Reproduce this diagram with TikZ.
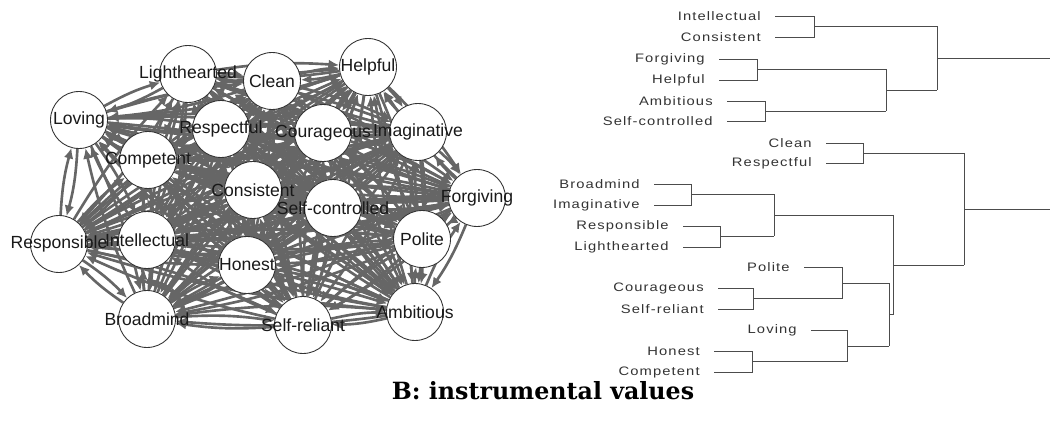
\documentclass[tikz,border=0pt]{standalone}
\usepackage{fontspec}
\setmainfont{Liberation Sans}
\newfontfamily\dendfont[FakeStretch=1.2, LetterSpace=9]{Liberation Sans}
\newfontfamily\capfont{DejaVu Serif}
\usetikzlibrary{arrows.meta,backgrounds}

\tikzset{
    vert/.style={draw=black!80, fill=white, circle, minimum size=1.14cm,
    inner sep=0pt, line width=0.5pt},
    vlabel/.style={font=\fontsize{10}{12}\selectfont, text=black!90, inner sep=0pt},
    link/.style={draw=black!60, line width=1.5pt, bend left=6,
    -{Latex[length=6pt,width=5.5pt]}},
    dleaf/.style={left=2.8mm, font=\dendfont\fontsize{7}{8}\selectfont,
    text=black!80, inner sep=0pt},
    dline/.style={draw=black!70, line width=0.5pt},
}

\begin{document}
\begin{tikzpicture}[x=0.02cm, y=-0.02cm]
    \useasboundingbox (0,0) rectangle (1050,425);

    \foreach \name/\px/\py in {lighthearted/188/74, clean/272/81, helpful/368/67,
      loving/79/120, respectful/221/129, courageous/323/133, imaginative/418/132,
      competent/148/160, consistent/253/190, selfcontrolled/333/208,
      forgiving/477/198, responsible/59/244, intellectual/147/240,
      honest/247/265, polite/422/239, broadmind/147/319, selfreliant/303/325,
      ambitious/415/312}
      \node[vert] (\name) at (\px,\py) {};

    \begin{scope}[on background layer]
      \foreach \a [count=\i] in {loving, lighthearted, clean, helpful, respectful,
        courageous, imaginative, competent, consistent, selfcontrolled, forgiving,
        responsible, intellectual, honest, polite, broadmind, selfreliant, ambitious}
        \foreach \b [count=\j] in {loving, lighthearted, clean, helpful, respectful,
          courageous, imaginative, competent, consistent, selfcontrolled, forgiving,
          responsible, intellectual, honest, polite, broadmind, selfreliant, ambitious}
          {\ifnum\i<\j
             \draw[link] (\a) to (\b);
             \draw[link] (\b) to (\a);
           \fi}
    \end{scope}

    \foreach \name/\txt in {lighthearted/Lighthearted, clean/Clean, helpful/Helpful,
      loving/Loving, respectful/Respectful, courageous/Courageous,
      imaginative/Imaginative, competent/Competent, consistent/Consistent,
      selfcontrolled/Self-controlled, forgiving/Forgiving, responsible/Responsible,
      intellectual/Intellectual, honest/Honest, polite/Polite, broadmind/Broadmind,
      selfreliant/Self-reliant, ambitious/Ambitious}
      \node[vlabel] (\name-t) at (\name) {\txt};

    \foreach \name/\px/\py/\txt in {intellectual/775/16/Intellectual,
      consistent/775/37/Consistent, forgiving/719/59/Forgiving,
      helpful/719/80/Helpful, ambitious/727/101/Ambitious,
      selfcontrolled/727/121/Self-controlled, clean/826/143/Clean,
      respectful/826/163/Respectful, broadmind/654/184/Broadmind,
      imaginative/654/205/Imaginative, responsible/683/226/Responsible,
      lighthearted/683/247/Lighthearted, polite/804/267/Polite,
      courageous/718/288/Courageous, selfreliant/718/309/Self-reliant,
      loving/811/330/Loving, honest/714/351/Honest, competent/714/372/Competent}
      \node[dleaf] (d-\name) at (\px,\py) {\txt};

    \draw[dline] (775,16) -| (814,37) -- (775,37);
    \draw[dline] (814,26.5) -- (937,26.5);
    \draw[dline] (719,59) -| (757,80) -- (719,80);
    \draw[dline] (757,69.5) -- (886,69.5);
    \draw[dline] (727,101) -| (765,121) -- (727,121);
    \draw[dline] (765,111) -- (886,111);
    \draw[dline] (886,69.5) -- (886,111);
    \draw[dline] (886,90) -- (937,90);
    \draw[dline] (937,26.5) -- (937,90);
    \draw[dline] (937,58.5) -- (1050,58.5);

    \draw[dline] (826,143) -| (863,163) -- (826,163);
    \draw[dline] (863,153) -- (964,153);
    \draw[dline] (654,184) -| (691,205) -- (654,205);
    \draw[dline] (691,194.5) -- (774,194.5);
    \draw[dline] (683,226) -| (720,247) -- (683,247);
    \draw[dline] (720,236.5) -- (774,236.5);
    \draw[dline] (774,194.5) -- (774,236.5);
    \draw[dline] (774,215) -- (893,215);
    \draw[dline] (718,288) -| (753,309) -- (718,309);
    \draw[dline] (753,298.5) -- (842,298.5);
    \draw[dline] (804,267) -| (842,298.5);
    \draw[dline] (842,283) -- (889,283);
    \draw[dline] (714,351) -| (752,372) -- (714,372);
    \draw[dline] (752,361.5) -- (847,361.5);
    \draw[dline] (811,330) -| (847,361.5);
    \draw[dline] (847,346) -- (889,346);
    \draw[dline] (889,283) -- (889,346);
    \draw[dline] (889,314.5) -- (893,314.5);
    \draw[dline] (893,215) -- (893,314.5);
    \draw[dline] (893,265) -- (964,265);
    \draw[dline] (964,153) -- (964,265);
    \draw[dline] (964,209) -- (1050,209);

    \node[font=\capfont\bfseries\fontsize{13.5}{16}\selectfont] (caption)
      at (543,391) {B: instrumental values};
\end{tikzpicture}
\end{document}
